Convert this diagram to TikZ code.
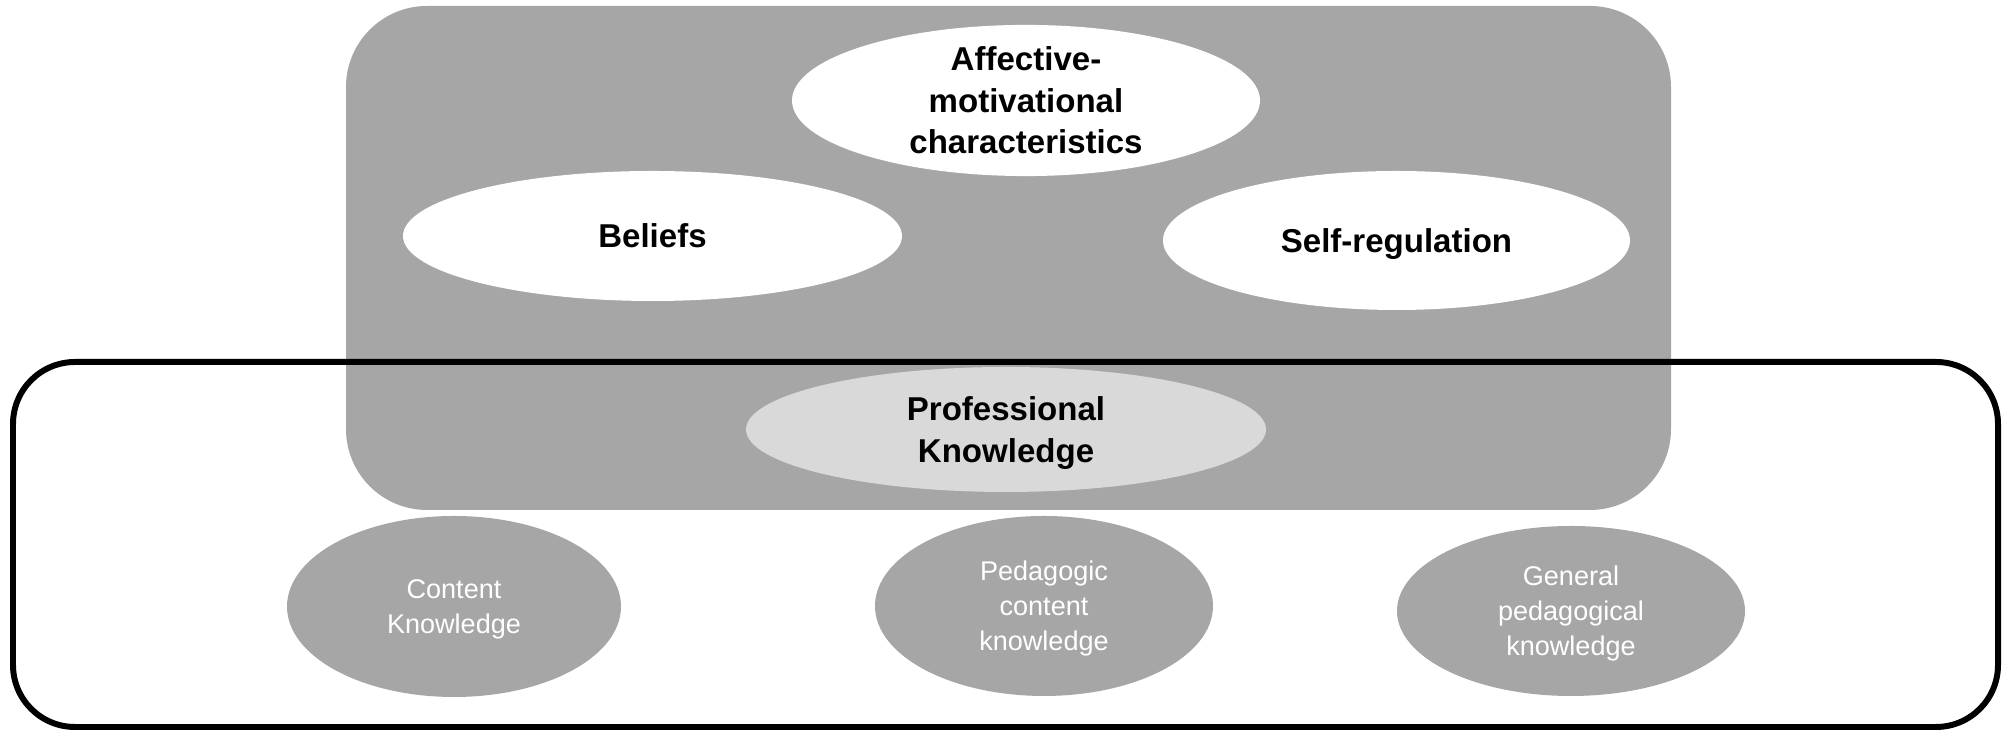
\documentclass[tikz,border=0pt]{standalone}
\usepackage{fontspec}
\setmainfont{Liberation Sans}
\usetikzlibrary{shapes.geometric}
\definecolor{boxgray}{HTML}{A6A6A6}
\definecolor{pkgray}{HTML}{D9D9D9}

\begin{document}
\begin{tikzpicture}[
	bigtext/.style={font=\fontsize{9.4}{11.8}\selectfont\bfseries, align=center, text depth=0pt},
	smalltext/.style={font=\fontsize{7.7}{10}\selectfont, align=center, text=white, text depth=0pt},
	oval/.style={ellipse, inner sep=0pt},
]
\useasboundingbox (0,0) rectangle (20.08,7.31);
% grey block behind the upper ovals
\fill[boxgray, rounded corners=0.81cm] (3.46,2.21) rectangle (16.71,7.25);
% black frame round the knowledge part
\draw[line width=1.7pt, rounded corners=0.62cm] (0.13,0.04) rectangle (19.98,3.69);

\node[oval, fill=white, bigtext, minimum width=4.68cm, minimum height=1.37cm] (affect) at (10.26,6.305) {Affective-\\motivational\\characteristics};
\node[oval, fill=white, bigtext, minimum width=4.99cm, minimum height=1.30cm] (beliefs) at (6.525,4.95) {Beliefs};
\node[oval, fill=white, bigtext, minimum width=4.67cm, minimum height=1.39cm] (selfreg) at (13.965,4.905) {Self-regulation};
\node[oval, fill=pkgray, bigtext, minimum width=5.20cm, minimum height=1.25cm] (profk) at (10.06,3.015) {Professional\\Knowledge};

\node[oval, fill=boxgray, smalltext, minimum width=3.34cm, minimum height=1.81cm] (ck) at (4.54,1.245) {Content\\Knowledge};
\node[oval, fill=boxgray, smalltext, minimum width=3.38cm, minimum height=1.80cm] (pck) at (10.44,1.25) {Pedagogic\\content\\knowledge};
\node[oval, fill=boxgray, smalltext, minimum width=3.48cm, minimum height=1.70cm] (gpk) at (15.71,1.20) {General\\pedagogical\\knowledge};
\end{tikzpicture}
\end{document}
